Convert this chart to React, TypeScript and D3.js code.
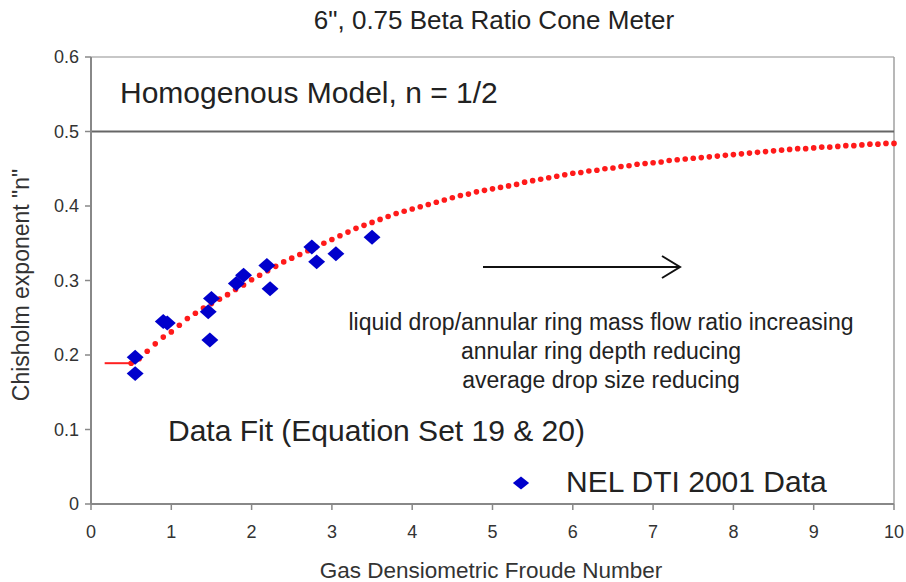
import React from "react";
import * as d3 from "d3";

const xTicks = [0, 1, 2, 3, 4, 5, 6, 7, 8, 9, 10];
const yTicks = [0, 0.1, 0.2, 0.3, 0.4, 0.5, 0.6];

// NEL DTI 2001 data (Froude number, Chisholm n)
const dataX = [0.55, 0.55, 0.9, 0.95, 1.46, 1.48, 1.5, 1.81, 1.9, 2.19, 2.23, 2.75, 2.81, 3.05, 3.5];
const dataN = [0.175, 0.197, 0.245, 0.243, 0.258, 0.22, 0.276, 0.296, 0.307, 0.320, 0.289, 0.345, 0.325, 0.336, 0.358];

// Data fit curve (Equation Set 19 & 20), sampled every 0.1
const fitX = d3.range(5, 101).map((i) => i / 10);
const fitN = [
  0.189, 0.195, 0.205, 0.215, 0.224, 0.231, 0.240, 0.249, 0.256, 0.263,
  0.269, 0.275, 0.281, 0.288, 0.294, 0.301, 0.307, 0.313, 0.319, 0.325,
  0.330, 0.335, 0.340, 0.345, 0.350, 0.355, 0.360, 0.365, 0.370, 0.374,
  0.378, 0.382, 0.386, 0.390, 0.393, 0.396, 0.399, 0.402, 0.405, 0.408,
  0.411, 0.414, 0.416, 0.419, 0.421, 0.423, 0.425, 0.427, 0.429, 0.432,
  0.434, 0.436, 0.438, 0.440, 0.442, 0.444, 0.445, 0.447, 0.448, 0.450,
  0.451, 0.453, 0.454, 0.456, 0.457, 0.458, 0.459, 0.461, 0.462, 0.463,
  0.464, 0.465, 0.466, 0.467, 0.468, 0.469, 0.470, 0.471, 0.472, 0.473,
  0.474, 0.475, 0.476, 0.477, 0.477, 0.478, 0.479, 0.479, 0.480, 0.481,
  0.481, 0.482, 0.483, 0.483, 0.484, 0.484,
];
const flatX = [0.17, 0.55];
const flatN = [0.189, 0.189];

const W = 906;
const H = 582;
const FONT = "'Liberation Sans', Arial, Helvetica, sans-serif";

export default function App() {
  const x = d3.scaleLinear().domain([0, 10]).range([91, 894]);
  const y = d3.scaleLinear().domain([0, 0.6]).range([504, 57]);
  const diamond = d3.symbol().type(d3.symbolSquare).size(112)()!;
  const legendDiamond = d3.symbol().type(d3.symbolSquare).size(84)()!;
  const fitLine = d3
    .line<number>()
    .x((_, i) => x(fitX[i]))
    .y((d) => y(d))(fitN)!;
  const flatLine = d3
    .line<number>()
    .x((_, i) => x(flatX[i]))
    .y((d) => y(d))(flatN)!;

  return (
    <svg
      width={W}
      height={H}
      style={{ position: "absolute", left: 0, top: 0, background: "#fff" }}
      fontFamily={FONT}
    >
      <rect x={0} y={0} width={W} height={H} fill="#fff" />
      {/* frame */}
      <line x1={x(0)} x2={x(10)} y1={y(0.6)} y2={y(0.6)} stroke="#b4b4b4" strokeWidth={1.5} />
      <line x1={x(10)} x2={x(10)} y1={y(0.6)} y2={y(0)} stroke="#a0a0a0" strokeWidth={1.5} />
      <line x1={x(0)} x2={x(10)} y1={y(0.5)} y2={y(0.5)} stroke="#666" strokeWidth={2} />
      {/* axes */}
      <line x1={x(0)} x2={x(0)} y1={y(0.6)} y2={y(0)} stroke="#888" strokeWidth={2} />
      <line x1={x(0)} x2={x(10)} y1={y(0)} y2={y(0)} stroke="#888" strokeWidth={2} />
      {yTicks.map((t) => (
        <g key={"y" + t}>
          <line x1={x(0) - 6} x2={x(0)} y1={y(t)} y2={y(t)} stroke="#888" strokeWidth={1.5} />
          <text x={79} y={y(t)} dy="0.36em" textAnchor="end" fontSize={18} fill="#333">
            {t === 0 ? "0" : t.toFixed(1)}
          </text>
        </g>
      ))}
      {xTicks.map((t) => (
        <g key={"x" + t}>
          <line x1={x(t)} x2={x(t)} y1={y(0)} y2={y(0) + 6} stroke="#888" strokeWidth={1.5} />
          <text x={x(t)} y={538} textAnchor="middle" fontSize={18} fill="#333">
            {t}
          </text>
        </g>
      ))}

      {/* fit curve */}
      <path d={flatLine} fill="none" stroke="#ff2020" strokeWidth={2} />
      {fitN.map((n, i) => (
        <circle key={"f" + i} cx={x(fitX[i])} cy={y(n)} r={2.8} fill="#ff1a1a" />
      ))}

      {/* data */}
      {dataN.map((n, i) => (
        <path
          key={"d" + i}
          d={diamond}
          transform={`translate(${x(dataX[i])},${y(n)}) scale(1.13,1) rotate(45)`}
          fill="#0000cc"
        />
      ))}

      {/* annotations */}
      <text x={494} y={29} textAnchor="middle" fontSize={26} fill="#222">
        6", 0.75 Beta Ratio Cone Meter
      </text>
      <text x={120} y={103} fontSize={30} fill="#222">
        Homogenous Model, n = 1/2
      </text>
      <line x1={483} x2={679} y1={267} y2={267} stroke="#111" strokeWidth={2} />
      <polyline points="662,256 680,267 662,278" fill="none" stroke="#111" strokeWidth={2} />
      <text x={601} y={330} textAnchor="middle" fontSize={23} fill="#222">
        liquid drop/annular ring mass flow ratio increasing
      </text>
      <text x={601} y={359} textAnchor="middle" fontSize={23} fill="#222">
        annular ring depth reducing
      </text>
      <text x={601} y={388} textAnchor="middle" fontSize={23} fill="#222">
        average drop size reducing
      </text>
      <text x={168} y={441} fontSize={30} fill="#222">
        Data Fit (Equation Set 19 &amp; 20)
      </text>
      <path d={legendDiamond} transform="translate(521,483) scale(1.25,1) rotate(45)" fill="#0000cc" />
      <text x={566} y={492} fontSize={30} fill="#222">
        NEL DTI 2001 Data
      </text>
      <text x={491} y={578} textAnchor="middle" fontSize={22.5} fill="#333">
        Gas Densiometric Froude Number
      </text>
      <text
        transform="translate(29,285) rotate(-90)"
        textAnchor="middle"
        fontSize={23}
        fill="#333"
      >
        Chisholm exponent "n"
      </text>
    </svg>
  );
}
